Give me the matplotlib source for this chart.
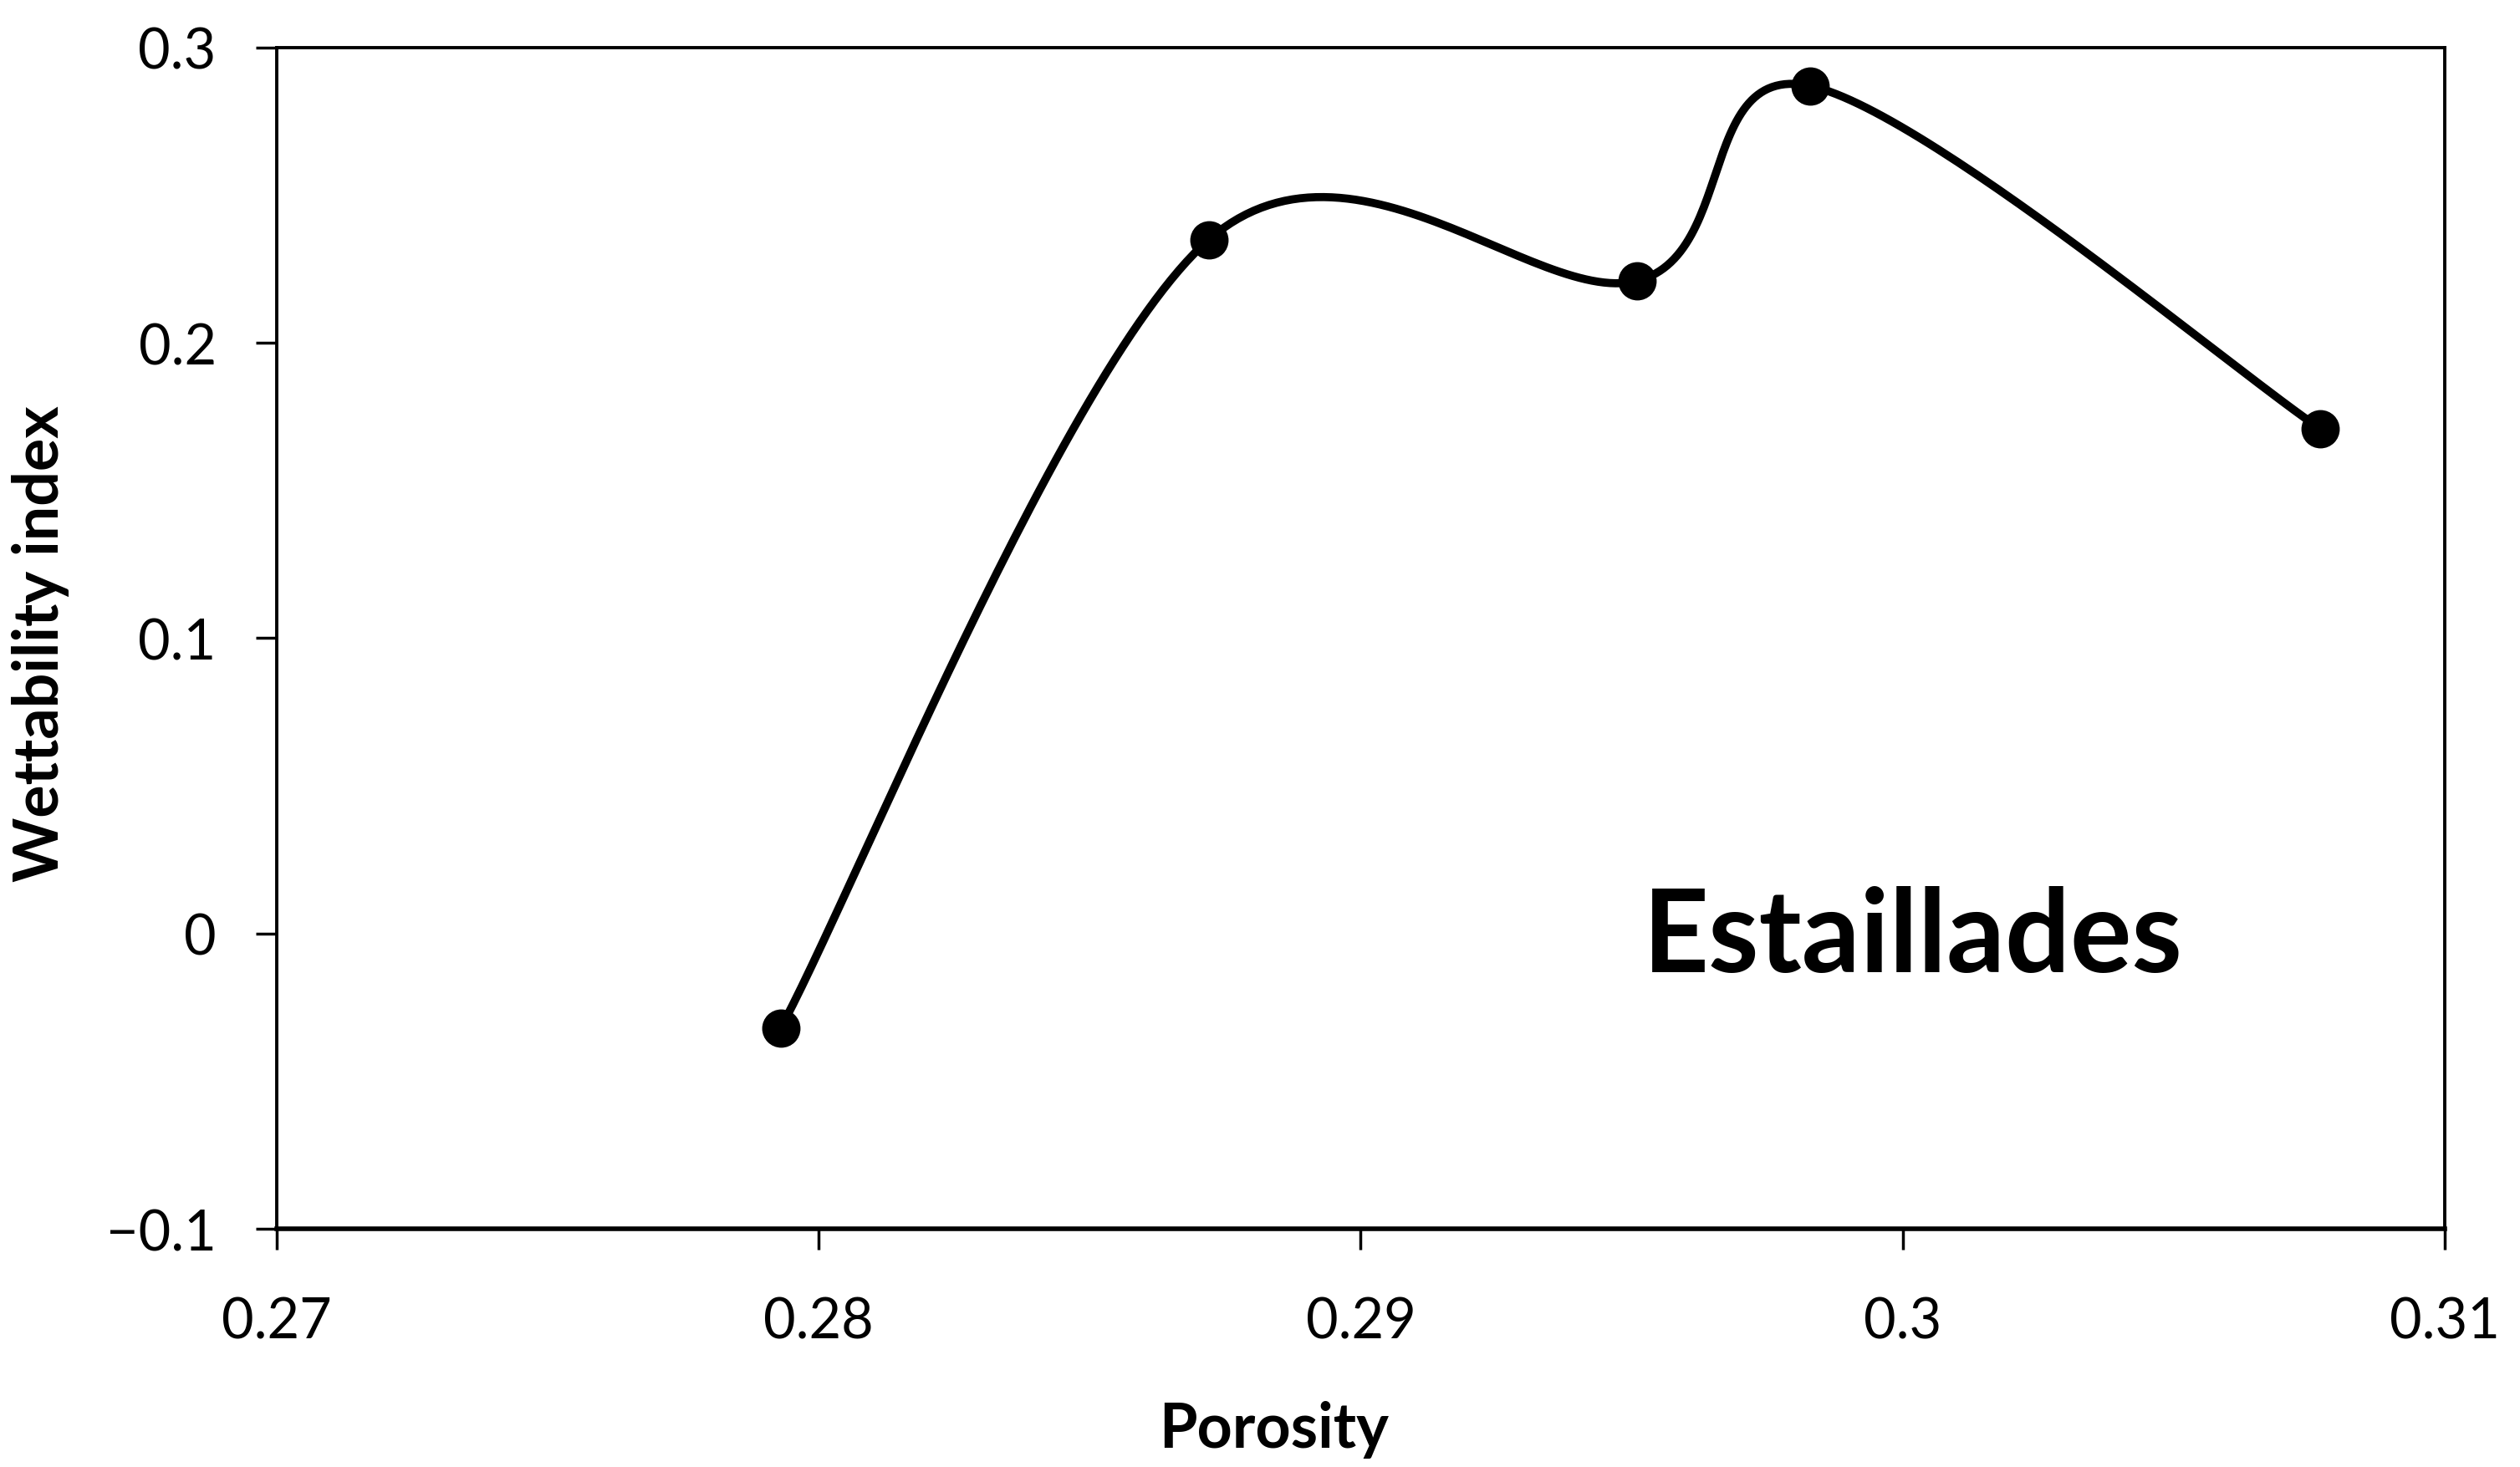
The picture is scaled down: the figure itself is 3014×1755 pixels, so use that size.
import numpy as np
import matplotlib.pyplot as plt

# valores
porosity = [0.2793, 0.2872, 0.2951, 0.2983, 0.3077]
wettability = [-0.032, 0.235, 0.221, 0.287, 0.171]

x_ticks = [0.27, 0.28, 0.29, 0.30, 0.31]
x_tick_labels = ["0.27", "0.28", "0.29", "0.3", "0.31"]
y_ticks = [-0.1, 0, 0.1, 0.2, 0.3]
y_tick_labels = ["\u22120.1", "0", "0.1", "0.2", "0.3"]


# curva suavizada estilo Excel (Bezier cúbica, fator 1/6)
def curva_suave(x, y, n=60):
    p = np.column_stack([x, y])
    pts = []
    for i in range(len(p) - 1):
        p0 = p[i - 1] if i > 0 else p[i]
        p1, p2 = p[i], p[i + 1]
        p3 = p[i + 2] if i + 2 < len(p) else p[i + 1]
        c1 = p1 + (p2 - p0) / 6
        c2 = p2 - (p3 - p1) / 6
        t = np.linspace(0, 1, n)[:, None]
        seg = ((1 - t) ** 3) * p1 + 3 * ((1 - t) ** 2) * t * c1 + 3 * (1 - t) * t ** 2 * c2 + t ** 3 * p2
        pts.append(seg)
    pts = np.vstack(pts)
    return pts[:, 0], pts[:, 1]


plt.rcParams['font.family'] = ['Lato', 'DejaVu Sans']

fig = plt.figure(figsize=(30.14, 17.56), dpi=100)
ax = fig.add_axes([0.1098, 0.1623, 0.8603, 0.8047])

xs, ys = curva_suave(porosity, wettability)
ax.plot(xs, ys, color='black', linewidth=7, solid_capstyle='round')
ax.plot(porosity, wettability, 'o', color='black', markersize=32)

ax.set_xlim(0.27, 0.31)
ax.set_ylim(-0.1, 0.3)
ax.set_xticks(x_ticks)
ax.set_xticklabels(x_tick_labels)
ax.set_yticks(y_ticks)
ax.set_yticklabels(y_tick_labels)
ax.tick_params(axis='both', direction='out', length=18, width=2.5, labelsize=48)
ax.tick_params(axis='x', pad=40)
ax.tick_params(axis='y', pad=34)

for s in ax.spines.values():
    s.set_linewidth(2.8)
ax.spines['bottom'].set_linewidth(4)

ax.set_xlabel("Porosity", fontsize=53, fontweight='bold')
ax.set_ylabel("Wettability index", fontsize=53, fontweight='bold')
ax.xaxis.set_label_coords(0.46, -0.145)
ax.yaxis.set_label_coords(-0.0955, 0.496)

ax.text(0.2952, -0.0128, "Estaillades", fontsize=99, fontweight='bold', va='baseline', ha='left')

fig.savefig('out.png', dpi=100)
